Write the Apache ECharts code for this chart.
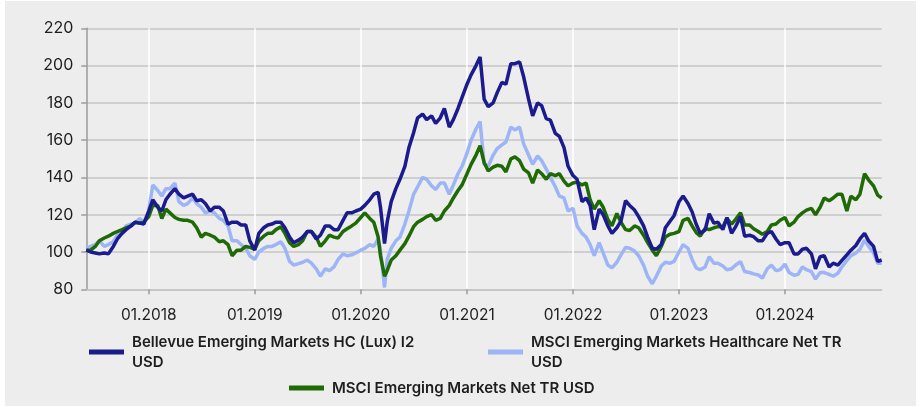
<!DOCTYPE html>
<html>
<head>
<meta charset="utf-8">
<script src="https://cdn.jsdelivr.net/npm/echarts@6/dist/echarts.min.js"></script>
<style>
  html, body { margin: 0; padding: 0; background: #ffffff; }
  #container { position: absolute; left: 5px; top: 1px; width: 911px; height: 405px; }
</style>
</head>
<body>
<div id="container"></div>
<script>
var dates = [
    '2017-05-31', '2017-06-15', '2017-07-01', '2017-07-15', '2017-08-01', '2017-08-15', '2017-09-01', '2017-09-15',
    '2017-10-01', '2017-10-15', '2017-11-01', '2017-11-15', '2017-12-01', '2017-12-15',
    '2018-01-01', '2018-01-15', '2018-02-01', '2018-02-15', '2018-03-01', '2018-03-15', '2018-04-01', '2018-04-15',
    '2018-05-01', '2018-05-15', '2018-06-01', '2018-06-15', '2018-07-01', '2018-07-15', '2018-08-01', '2018-08-15',
    '2018-09-01', '2018-09-15', '2018-10-01', '2018-10-15', '2018-11-01', '2018-11-15', '2018-12-01', '2018-12-15',
    '2019-01-01', '2019-01-15', '2019-02-01', '2019-02-15', '2019-03-01', '2019-03-15', '2019-04-01', '2019-04-15',
    '2019-05-01', '2019-05-15', '2019-06-01', '2019-06-15', '2019-07-01', '2019-07-15', '2019-08-01', '2019-08-15',
    '2019-09-01', '2019-09-15', '2019-10-01', '2019-10-15', '2019-11-01', '2019-11-15', '2019-12-01', '2019-12-15',
    '2020-01-01', '2020-01-15', '2020-02-01', '2020-02-15', '2020-03-01', '2020-03-09', '2020-03-23', '2020-04-01',
    '2020-04-15', '2020-05-01', '2020-05-15', '2020-06-01', '2020-06-15', '2020-07-01', '2020-07-15', '2020-08-01',
    '2020-08-15', '2020-09-01', '2020-09-15', '2020-10-01', '2020-10-15', '2020-11-01', '2020-11-15', '2020-12-01',
    '2020-12-15',
    '2021-01-01', '2021-01-15', '2021-02-01', '2021-02-15', '2021-03-01', '2021-03-15', '2021-04-01', '2021-04-15',
    '2021-05-01', '2021-05-15', '2021-06-01', '2021-06-15', '2021-07-01', '2021-07-15', '2021-08-01', '2021-08-15',
    '2021-09-01', '2021-09-15', '2021-10-01', '2021-10-15', '2021-11-01', '2021-11-15', '2021-12-01', '2021-12-15',
    '2022-01-01', '2022-01-15', '2022-02-01', '2022-02-15', '2022-03-01', '2022-03-15', '2022-04-01', '2022-04-15',
    '2022-05-01', '2022-05-15', '2022-06-01', '2022-06-15', '2022-07-01', '2022-07-15', '2022-08-01', '2022-08-15',
    '2022-09-01', '2022-09-15', '2022-10-01', '2022-10-15', '2022-11-01', '2022-11-15', '2022-12-01', '2022-12-15',
    '2023-01-01', '2023-01-15', '2023-02-01', '2023-02-15', '2023-03-01', '2023-03-15', '2023-04-01', '2023-04-15',
    '2023-05-01', '2023-05-15', '2023-06-01', '2023-06-15', '2023-07-01', '2023-07-15', '2023-08-01', '2023-08-15',
    '2023-09-01', '2023-09-15', '2023-10-01', '2023-10-15', '2023-11-01', '2023-11-15', '2023-12-01', '2023-12-15',
    '2024-01-01', '2024-01-15', '2024-02-01', '2024-02-15', '2024-03-01', '2024-03-15', '2024-04-01', '2024-04-15',
    '2024-05-01', '2024-05-15', '2024-06-01', '2024-06-15', '2024-07-01', '2024-07-15', '2024-08-01', '2024-08-15',
    '2024-09-01', '2024-09-15', '2024-10-01', '2024-10-15', '2024-11-01', '2024-11-15', '2024-11-29'
];

// Bellevue Emerging Markets HC (Lux) I2 USD
var bellevue = [
    101, 100, 99.5, 99, 99.5, 99, 103, 107, 110, 112, 114, 116, 115.5, 115,
    122, 128, 124, 122, 128, 131, 134, 131, 129, 130, 131, 127.5, 128, 126, 122, 124, 124, 122, 115, 116, 116, 114.5, 114.5, 106,
    101, 110, 113, 114.5, 115, 116, 116, 113, 108, 105, 106.4, 108, 111, 111, 107, 109, 114, 114, 112, 112, 117, 121, 121, 122,
    123, 125, 128, 131, 132, 124, 104.6, 116, 127, 134, 139, 146, 156, 164, 172, 174, 171, 173, 169, 172, 177, 167, 171, 177, 183,
    190, 195, 200, 204.6, 182, 178, 180, 185.5, 191, 190, 201, 201, 202, 194, 182, 173, 180, 178.5, 171.5, 170.7, 163.6, 162, 156, 146,
    141, 139, 127, 129, 125, 112, 123, 120, 114, 110, 113, 116.5, 127.5, 125, 122.5, 119, 114, 108, 102, 101.5, 104, 113, 116.5, 119.5,
    127, 130, 126, 121.6, 115, 110, 111.8, 120.5, 115.5, 116, 112, 118.5, 110, 113.6, 119, 108.5, 109, 108.2, 106, 106, 110, 111, 107, 104,
    105, 105, 99, 99, 101.5, 102, 99, 91, 97.5, 98, 92, 94, 93, 95.5, 98.5, 101, 103.5, 107, 110, 106, 103, 95, 95.7
];

// MSCI Emerging Markets Healthcare Net TR USD
var healthcare = [
    102, 103, 104, 106, 103, 104, 105.5, 109, 110, 114, 115, 115.5, 118, 116,
    122, 136, 133, 130, 134, 134, 137, 127, 125, 126, 129, 126, 124, 121, 122, 121, 118, 117, 114, 106, 106, 104, 102, 98,
    96, 100, 102, 103, 103, 104, 105.5, 102, 95, 93, 93.8, 94.5, 95.7, 94, 91, 87, 91, 90, 92, 96, 99, 98, 98.5, 99.5,
    101, 102, 104, 103, 107, 101, 81, 96, 102, 106, 108, 115, 122, 131, 135, 140, 139, 135.5, 133.5, 137, 137, 131, 136, 142, 146,
    153, 160, 166, 170, 147, 146, 152, 155.5, 157.5, 159, 167, 165.5, 167, 158, 152, 147, 151.5, 149, 144.5, 140, 135, 130, 129, 122,
    123.5, 114, 110, 108, 104, 98, 105, 99.5, 93, 91.5, 94.5, 98.5, 102.5, 102, 100.5, 98, 93, 87, 83, 87, 92.5, 94.5, 94, 95,
    100, 104, 102, 96, 91.5, 90.5, 92, 97.5, 94, 94, 92.5, 90.5, 91, 93, 94.8, 89.5, 89, 88.3, 87.7, 86, 91, 93, 90, 90.5,
    93.5, 89, 87.5, 88, 92, 90.5, 89.5, 85.5, 89, 89, 88, 87, 88.6, 92, 95.5, 98, 99.5, 101.5, 106.4, 103, 99.5, 94, 94
];

// MSCI Emerging Markets Net TR USD
var msciEm = [
    101, 101, 103, 106, 107.5, 108.5, 110, 111, 112, 113, 114, 116, 115.5, 116,
    119, 125, 125, 118, 123, 121, 118.5, 117.5, 117, 117, 116, 113, 108, 110, 109, 108, 105.5, 106, 104, 98, 101, 101, 103, 102.5,
    101.5, 106, 108.5, 110, 110, 112, 113.5, 110, 105, 103, 104, 106, 111, 111, 108, 103, 106, 109, 108, 107.5, 111, 112.5, 114, 115.5,
    118.5, 121, 118, 116, 108, 98, 87, 90, 95.7, 98, 101, 104.5, 108.5, 113.6, 116, 117.5, 119, 120, 117, 118, 122, 125, 129, 133, 136,
    142, 147, 152, 157, 148, 143.5, 145.5, 146.5, 146, 143, 150, 151, 149, 144.5, 142.5, 137, 144, 142, 139, 142, 141, 142, 138, 135.5,
    137, 137.5, 136, 137, 128, 123, 127.5, 124, 117.5, 114, 120.7, 116, 112, 111.5, 114, 113, 109, 105, 101, 98, 103, 108, 109.5, 110,
    111, 117, 118, 114, 110.5, 108.5, 112.7, 112, 113, 113.6, 113.6, 118, 115, 117.5, 121, 114.5, 114.5, 112.5, 111, 109.5, 111, 114.5, 115, 117,
    118.5, 114, 116, 119, 121, 122.5, 123.4, 120, 124, 129, 127.5, 129, 131, 131, 122, 130, 128, 131, 142, 138.6, 135.5, 130.5, 129
];

var yearTicks = ['2018-01-01', '2019-01-01', '2020-01-01', '2021-01-01', '2022-01-01', '2023-01-01', '2024-01-01'];
var axisStart = '2017-05-31';
var axisEnd = '2024-11-29';

var seriesNames = [
    'Bellevue Emerging Markets HC (Lux) I2 USD',
    'MSCI Emerging Markets Healthcare Net TR USD',
    'MSCI Emerging Markets Net TR USD'
];
var legendLabels = {
    'Bellevue Emerging Markets HC (Lux) I2 USD': 'Bellevue Emerging Markets HC (Lux) I2\nUSD',
    'MSCI Emerging Markets Healthcare Net TR USD': 'MSCI Emerging Markets Healthcare Net TR\nUSD',
    'MSCI Emerging Markets Net TR USD': 'MSCI Emerging Markets Net TR USD'
};

var fontName = 'Inter';
var textColor = '#1e1e1e';

function toTime(d) {
    return echarts.time.parse(d).getTime();
}

function toPairs(values) {
    return dates.map(function (d, i) {
        return [toTime(d), values[i]];
    });
}

function makeLegend(name, left, top, padTop) {
    return {
        data: [name],
        left: left,
        top: top,
        padding: 0,
        icon: 'rect',
        itemWidth: 35,
        itemHeight: 5,
        selectedMode: false,
        formatter: function (n) { return legendLabels[n]; },
        textStyle: {
            color: textColor,
            fontFamily: fontName,
            fontSize: 15,
            fontWeight: 600,
            lineHeight: 20,
            padding: [padTop, 0, 0, 3]
        }
    };
}

var tickValues = yearTicks.map(toTime);

var myChart = echarts.init(document.getElementById('container'), null, { renderer: 'canvas' });

myChart.setOption({
    backgroundColor: '#ededed',
    animation: false,
    grid: { left: 81.3, right: 34.3, top: 27.3, bottom: 116.7, containLabel: false },
    legend: [
        makeLegend(seriesNames[0], 84, 326.5, 9),
        makeLegend(seriesNames[1], 483, 326.5, 9),
        makeLegend(seriesNames[2], 284, 377, 0)
    ],
    xAxis: {
        type: 'value',
        min: toTime(axisStart),
        max: toTime(axisEnd),
        axisLine: { show: true, lineStyle: { color: '#c4c4c4', width: 1.5 } },
        axisTick: { show: true, customValues: tickValues, length: 5, lineStyle: { color: '#9a9a9a', width: 1.5 } },
        axisLabel: {
            customValues: tickValues,
            color: textColor,
            fontFamily: fontName,
            fontSize: 15.5,
            margin: 18,
            formatter: function (value) {
                var d = new Date(value);
                return '01.' + d.getFullYear();
            }
        },
        splitLine: { show: true, lineStyle: { color: '#ffffff', width: 1.5 } }
    },
    yAxis: {
        type: 'value',
        min: 80,
        max: 220,
        interval: 20,
        axisLine: { show: true, lineStyle: { color: '#9a9a9a', width: 1.5 } },
        axisTick: { show: true, length: 5, lineStyle: { color: '#9a9a9a', width: 1.5 } },
        axisLabel: { color: textColor, fontFamily: fontName, fontSize: 16, margin: 13 },
        splitLine: { show: true, lineStyle: { color: '#c4c4c4', width: 1.5 } }
    },
    series: [
        {
            name: seriesNames[1],
            type: 'line',
            data: toPairs(healthcare),
            showSymbol: false,
            color: '#9db5f6',
            lineStyle: { width: 3.5, color: '#9db5f6' }
        },
        {
            name: seriesNames[2],
            type: 'line',
            data: toPairs(msciEm),
            showSymbol: false,
            color: '#1f6a05',
            lineStyle: { width: 3.5, color: '#1f6a05' }
        },
        {
            name: seriesNames[0],
            type: 'line',
            data: toPairs(bellevue),
            showSymbol: false,
            color: '#1b1b8e',
            lineStyle: { width: 3.5, color: '#1b1b8e' }
        }
    ]
});
</script>
</body>
</html>
